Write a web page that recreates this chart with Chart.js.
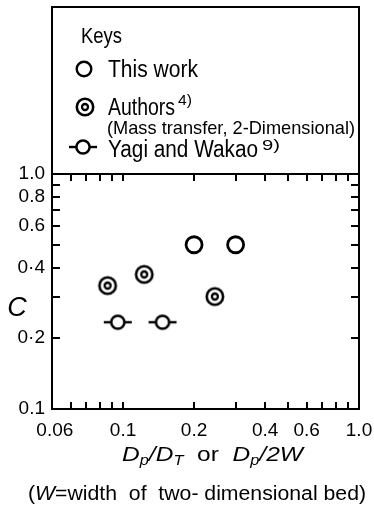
<!DOCTYPE html>
<html>
<head>
<meta charset="utf-8">
<script src="https://cdn.jsdelivr.net/npm/chart.js@4"></script>
<style>
  html, body { margin: 0; padding: 0; background: #fff; }
  canvas { display: block; }
</style>
</head>
<body>
<canvas id="chart" width="374" height="507"></canvas>
<script>
// values (log-log)
const thisWorkX = [0.2, 0.3];
const thisWorkC = [0.5, 0.5];
const authorsX = [0.086, 0.123, 0.245];
const authorsC = [0.335, 0.374, 0.301];
const yagiX = [0.095, 0.147];
const yagiC = [0.234, 0.234];

const xTicks = [0.06, 0.07, 0.08, 0.09, 0.1, 0.2, 0.3, 0.4, 0.5, 0.6, 0.7, 0.8, 0.9, 1.0];
const xLabelValues = [0.06, 0.1, 0.2, 0.4, 0.6, 1.0];
const xLabelTexts = ['0.06\u2007\u2007\u2007', '0.1', '0.2', '0.4', '0.6', '1.0'];
const yTicks = [0.1, 0.2, 0.3, 0.4, 0.5, 0.6, 0.7, 0.8, 0.9, 1.0];
const yLabelValues = [0.1, 0.2, 0.4, 0.6, 0.8, 1.0];
const yLabelTexts = ['0.1', '0·2', '0·4', '0.6', '0.8', '1.0'];

const FAM = '"Liberation Sans", Arial, sans-serif';

function labelFor(values, texts, v) {
  const i = values.findIndex(t => Math.abs(t - v) < 1e-9);
  return i < 0 ? '' : texts[i];
}

function ringMarker() {
  const c = document.createElement('canvas');
  c.width = 22; c.height = 22;
  const g = c.getContext('2d');
  g.strokeStyle = '#000';
  g.fillStyle = '#fff';
  g.lineWidth = 2.6;
  g.beginPath(); g.arc(11, 11, 8.2, 0, 2 * Math.PI); g.fill(); g.stroke();
  g.lineWidth = 2.3;
  g.beginPath(); g.arc(11, 11, 3, 0, 2 * Math.PI); g.stroke();
  return c;
}

function barMarker() {
  const c = document.createElement('canvas');
  c.width = 30; c.height = 18;
  const g = c.getContext('2d');
  g.strokeStyle = '#000';
  g.fillStyle = '#fff';
  g.lineWidth = 2.4;
  g.beginPath(); g.moveTo(1, 9); g.lineTo(29, 9); g.stroke();
  g.lineWidth = 2.5;
  g.beginPath(); g.arc(15, 9, 6.6, 0, 2 * Math.PI); g.fill(); g.stroke();
  return c;
}

const ringImg = ringMarker();
const barImg = barMarker();

function fitText(ctx, text, x, y, width) {
  const w = ctx.measureText(text).width;
  ctx.save();
  ctx.translate(x, y);
  ctx.scale(width / w, 1);
  ctx.fillText(text, 0, 0);
  ctx.restore();
}

function richText(ctx, segs, x, y, width) {
  let total = 0;
  segs.forEach(s => { ctx.font = s.font; s.w = ctx.measureText(s.t).width; total += s.w; });
  ctx.save();
  ctx.translate(x, y);
  ctx.scale(width / total, 1);
  let cx = 0;
  segs.forEach(s => { ctx.font = s.font; ctx.fillText(s.t, cx, s.dy || 0); cx += s.w; });
  ctx.restore();
}

const framePlugin = {
  id: 'frame',
  afterDraw(chart) {
    const { ctx, chartArea: a, scales } = chart;
    ctx.save();
    ctx.strokeStyle = '#000';
    ctx.fillStyle = '#000';
    ctx.lineWidth = 2;
    ctx.strokeRect(a.left, 7, a.right - a.left, a.bottom - 7);
    ctx.beginPath(); ctx.moveTo(a.left, a.top); ctx.lineTo(a.right, a.top); ctx.stroke();

    // inward ticks on all four sides
    ctx.beginPath();
    xTicks.forEach(v => {
      const px = Math.round(scales.x.getPixelForValue(v));
      ctx.moveTo(px, a.top); ctx.lineTo(px, a.top + 7);
      ctx.moveTo(px, a.bottom); ctx.lineTo(px, a.bottom - 7);
    });
    yTicks.forEach(v => {
      const py = Math.round(scales.y.getPixelForValue(v));
      ctx.moveTo(a.left, py); ctx.lineTo(a.left + 8, py);
      ctx.moveTo(a.right, py); ctx.lineTo(a.right - 8, py);
    });
    ctx.stroke();

    // keys box
    ctx.textBaseline = 'alphabetic';
    ctx.textAlign = 'left';
    ctx.font = '22px ' + FAM;
    fitText(ctx, 'Keys', 81, 43, 41);

    ctx.lineWidth = 2.4;
    ctx.beginPath(); ctx.arc(84, 69, 7.3, 0, 2 * Math.PI); ctx.stroke();
    ctx.font = '23px ' + FAM;
    fitText(ctx, 'This work', 108, 77, 90);

    ctx.drawImage(ringImg, 85 - 11, 107 - 11);
    ctx.font = '23px ' + FAM;
    fitText(ctx, 'Authors', 108, 115, 67);
    ctx.font = '14px ' + FAM;
    fitText(ctx, '4)', 178, 105, 14);
    ctx.font = '19px ' + FAM;
    fitText(ctx, '(Mass transfer, 2-Dimensional)', 107, 134, 248);

    ctx.drawImage(barImg, 83 - 15, 147 - 9);
    ctx.font = '23px ' + FAM;
    fitText(ctx, 'Yagi and Wakao', 108, 157, 150);
    ctx.font = '14px ' + FAM;
    fitText(ctx, '9)', 262, 150, 18);

    // axis titles
    ctx.font = 'italic 27px ' + FAM;
    ctx.textAlign = 'center';
    ctx.textBaseline = 'middle';
    ctx.fillText('C', 17, 308);
    ctx.textAlign = 'left';
    ctx.textBaseline = 'alphabetic';

    const it = 'italic 21px ' + FAM, sub = 'italic 14px ' + FAM, rm = '21px ' + FAM;
    richText(ctx, [
      { t: 'D', font: it }, { t: 'p', font: sub, dy: 4 }, { t: '/', font: it },
      { t: 'D', font: it }, { t: 'T', font: sub, dy: 4 }, { t: '  or  ', font: rm },
      { t: 'D', font: it }, { t: 'p', font: sub, dy: 4 }, { t: '/2', font: it },
      { t: 'W', font: it }
    ], 122, 461, 181);

    const rm2 = '20px ' + FAM;
    richText(ctx, [
      { t: '(', font: rm2 }, { t: 'W', font: 'italic 20px ' + FAM },
      { t: '=width  of  two- dimensional bed)', font: rm2 }
    ], 28, 500, 338);
    ctx.restore();
  }
};

new Chart(document.getElementById('chart').getContext('2d'), {
  type: 'scatter',
  data: {
    datasets: [
      {
        label: 'This work',
        data: thisWorkX.map((x, i) => ({ x: x, y: thisWorkC[i] })),
        pointStyle: 'circle',
        pointRadius: 8,
        pointBorderWidth: 2.8,
        pointBackgroundColor: '#fff',
        pointBorderColor: '#000'
      },
      {
        label: 'Authors',
        data: authorsX.map((x, i) => ({ x: x, y: authorsC[i] })),
        pointStyle: ringImg
      },
      {
        label: 'Yagi and Wakao',
        data: yagiX.map((x, i) => ({ x: x, y: yagiC[i] })),
        pointStyle: barImg
      }
    ]
  },
  options: {
    responsive: false,
    animation: false,
    devicePixelRatio: 1,
    layout: { padding: { top: 174, right: 15, left: 0, bottom: 58 } },
    plugins: { legend: { display: false }, tooltip: { enabled: false } },
    scales: {
      x: {
        type: 'logarithmic',
        min: 0.05,
        max: 1.0,
        afterBuildTicks: s => { s.ticks = xTicks.map(v => ({ value: v })); },
        afterFit: s => { s.height = 40; s.paddingLeft = 0; s.paddingRight = 0; },
        grid: { display: false, drawTicks: false },
        border: { display: false },
        ticks: {
          autoSkip: false,
          maxRotation: 0,
          padding: 10,
          color: '#000',
          font: { family: FAM, size: 19 },
          callback: v => labelFor(xLabelValues, xLabelTexts, v)
        }
      },
      y: {
        type: 'logarithmic',
        min: 0.1,
        max: 1.0,
        afterBuildTicks: s => { s.ticks = yTicks.map(v => ({ value: v })); },
        afterFit: s => { s.width = 52; s.paddingTop = 0; s.paddingBottom = 0; },
        grid: { display: false, drawTicks: false },
        border: { display: false },
        ticks: {
          autoSkip: false,
          padding: 7,
          color: '#000',
          font: { family: FAM, size: 19 },
          callback: v => labelFor(yLabelValues, yLabelTexts, v)
        }
      }
    }
  },
  plugins: [framePlugin]
});
</script>
</body>
</html>
